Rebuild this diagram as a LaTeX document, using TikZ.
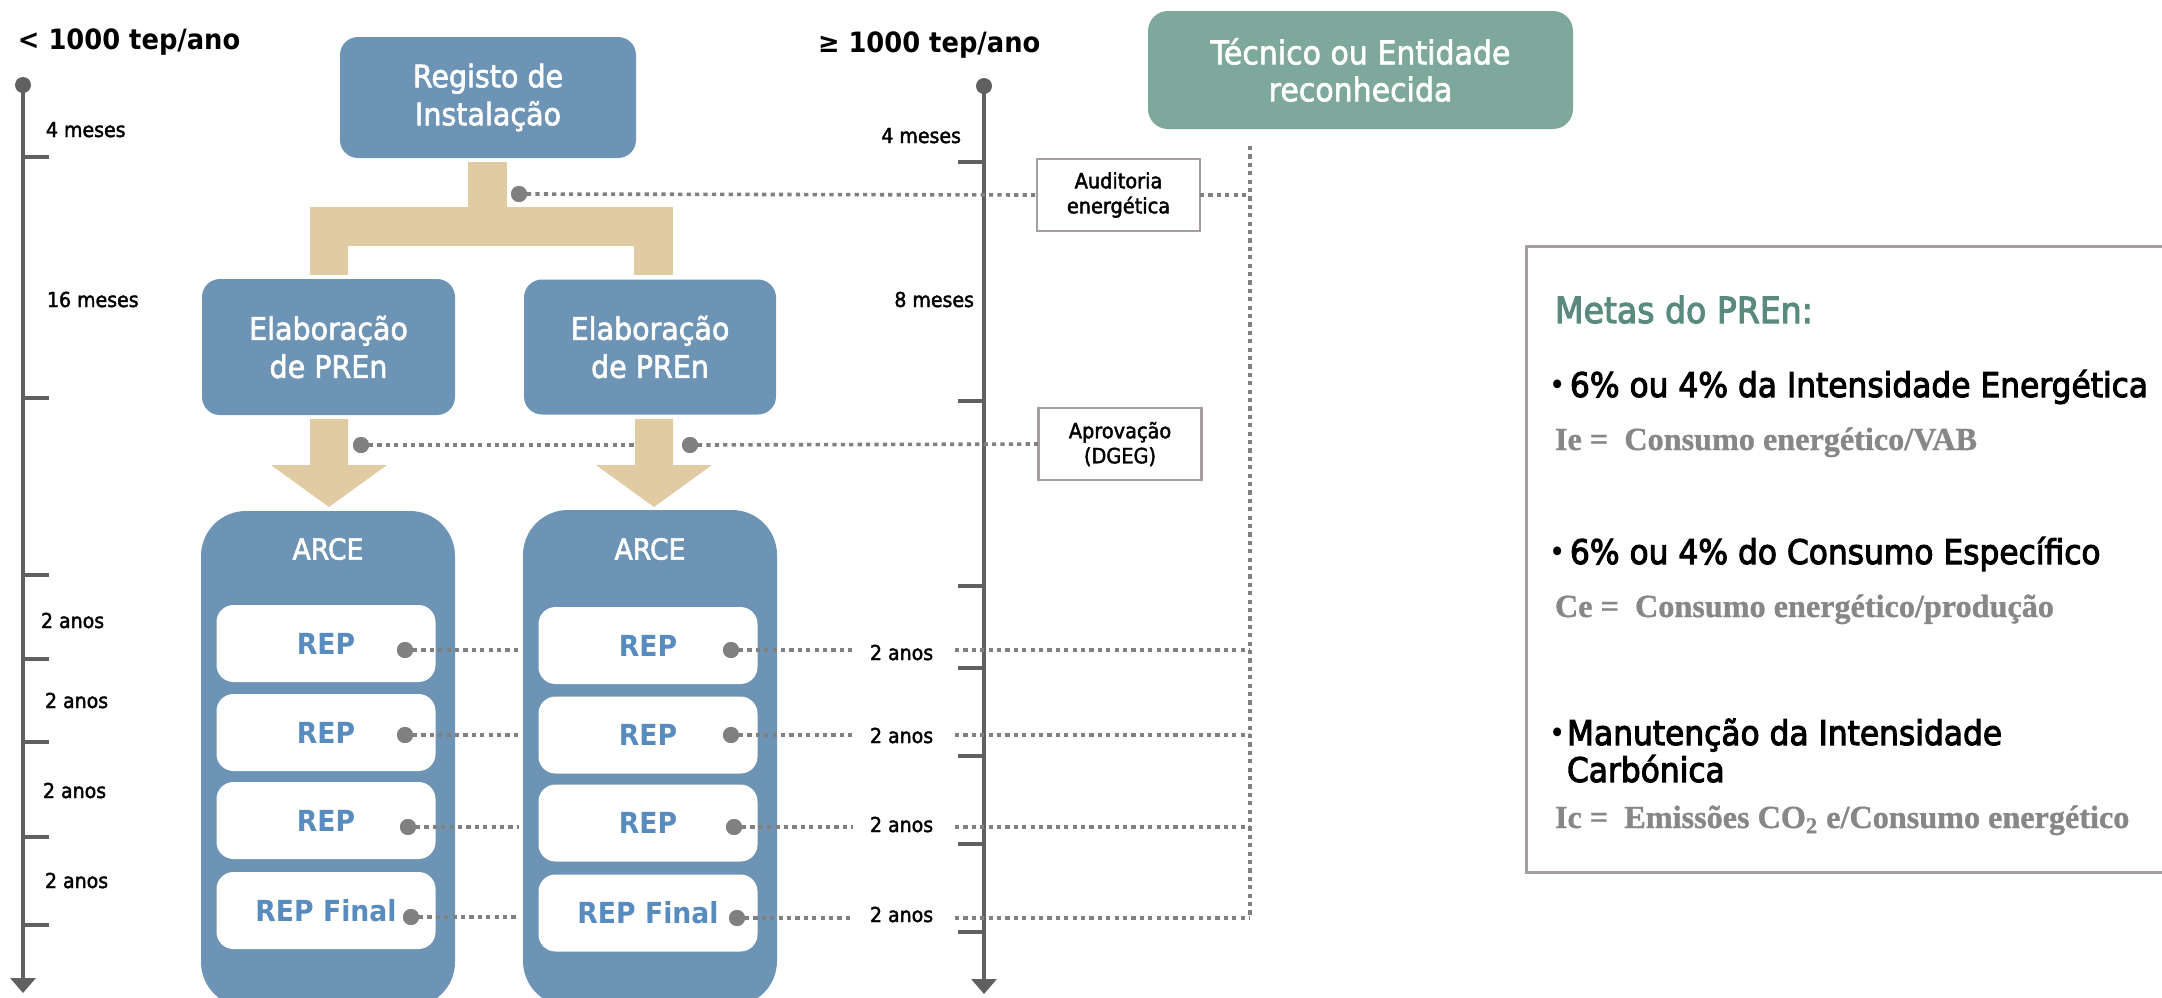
\documentclass[tikz,border=0pt]{standalone}
\usepackage{fontspec}
\setmainfont{DejaVu Sans}[FakeStretch=0.92]
\newfontfamily\semib{DejaVu Sans}[FakeStretch=0.92,FakeBold=2]
\newfontfamily\semibb{DejaVu Sans}[FakeStretch=0.92,FakeBold=3]
\newfontfamily\formfont{Liberation Serif}[FakeBold=1]
\usetikzlibrary{arrows.meta}
\definecolor{boxblue}{RGB}{109,148,181}
\definecolor{tanc}{RGB}{224,203,162}
\definecolor{greenbox}{RGB}{126,168,156}
\definecolor{repblue}{RGB}{88,139,190}
\definecolor{tlgray}{RGB}{96,96,96}
\definecolor{dotgray}{RGB}{128,128,128}
\definecolor{bordergray}{RGB}{165,158,158}
\definecolor{metagreen}{RGB}{90,138,126}
\definecolor{formgray}{RGB}{135,135,135}
\begin{document}
\begin{tikzpicture}[x=0.5pt,y=-0.5pt,
  every node/.style={inner sep=0pt, outer sep=0pt},
  bluebox/.style={fill=boxblue, rounded corners=9pt, text=white, align=center,
    font=\semib\fontsize{15.5}{19}\selectfont},
  arcebox/.style={fill=boxblue, rounded corners=22.5pt, minimum width=127pt, minimum height=248pt},
  arcetxt/.style={text=white, font=\semib\fontsize{14.5}{17}\selectfont},
  repbox/.style={fill=white, rounded corners=8.5pt, minimum width=109.5pt, minimum height=38.5pt,
    text=repblue, font=\bfseries\fontsize{14.5}{17}\selectfont},
  infobox/.style={draw=bordergray, line width=1.3pt, fill=white, align=center,
    minimum width=81.5pt, minimum height=36pt, font=\semib\fontsize{10.5}{12.5}\selectfont},
  lbl/.style={font=\semib\fontsize{10.3}{12}\selectfont, anchor=base west},
  lble/.style={font=\semib\fontsize{10.3}{12}\selectfont, anchor=base east},
  head/.style={font=\bfseries\fontsize{14}{16}\selectfont, anchor=base west},
  tl/.style={draw=tlgray, line width=1.65pt},
  tldot/.style={circle, fill=tlgray, minimum size=8pt},
  dotn/.style={circle, fill=dotgray, minimum size=8pt},
  dotl/.style={draw=dotgray, line width=1.8pt, dash pattern=on 2.1pt off 2.1pt},
  metah/.style={anchor=base west, text=metagreen, font=\semibb\fontsize{18}{21}\selectfont},
  metab/.style={anchor=base west, font=\semibb\fontsize{17}{20}\selectfont},
  metabul/.style={anchor=base west, font=\fontsize{15}{17}\selectfont},
  metaf/.style={anchor=base west, text=formgray, font=\formfont\bfseries\fontsize{16.1}{19}\selectfont},
  tarrow/.style={fill=tanc}]
\useasboundingbox (0,0) rectangle (2162,997);

% ---------- headings
\node[head] (hL) at (18,49) {< 1000 tep/ano};
\node[head] (hR) at (818,52) {≥ 1000 tep/ano};

% ---------- timelines
\node[tldot] (tlLtop) at (23,85) {};
\coordinate (tlLbot) at (23,993);
\draw[tl, -{Triangle[width=12.5pt,length=7.5pt]}] (tlLtop.center) -- (tlLbot);
\foreach \y in {157,398,575,659,742,837,925} \draw[tl] (23,\y) -- (49,\y);

\node[tldot] (tlRtop) at (984,86) {};
\coordinate (tlRbot) at (984,994);
\draw[tl, -{Triangle[width=12.5pt,length=7.5pt]}] (tlRtop.center) -- (tlRbot);
\foreach \y in {162,401,586,668,756,844,932} \draw[tl] (958,\y) -- (984,\y);

% left labels
\node[lbl] (lm4) at (46,137) {4 meses};
\node[lbl] (lm16) at (47,307) {16 meses};
\node[lbl] (la1) at (41,628) {2 anos};
\node[lbl] (la2) at (45,708) {2 anos};
\node[lbl] (la3) at (43,798) {2 anos};
\node[lbl] (la4) at (45,888) {2 anos};
% right labels
\node[lble] (rm4) at (961,143) {4 meses};
\node[lble] (rm8) at (974,307) {8 meses};
\node[lbl] (ra1) at (870,660) {2 anos};
\node[lbl] (ra2) at (870,743) {2 anos};
\node[lbl] (ra3) at (870,832) {2 anos};
\node[lbl] (ra4) at (870,922) {2 anos};

% ---------- tan connectors
\fill[tanc] (468,162) rectangle (507,207);
\fill[tanc] (310,207) rectangle (673,246);
\fill[tanc] (310,246) rectangle (348,275);
\fill[tanc] (634,246) rectangle (673,275);
\fill[tanc] (310,419) -- (348,419) -- (348,465) -- (387,465) -- (329,507) -- (271,465) -- (310,465) -- cycle;
\fill[tanc] (635,419) -- (673,419) -- (673,465) -- (712,465) -- (654,507) -- (596,465) -- (635,465) -- cycle;

% ---------- boxes
\node[bluebox, minimum width=148pt, minimum height=60.5pt] (reg) at (488,97.5) {Registo de\\Instalação};
\node[bluebox, minimum width=126.5pt, minimum height=68pt] (elabL) at (328.5,347) {Elaboração\\de PREn};
\node[bluebox, minimum width=126pt, minimum height=67.5pt] (elabR) at (650,347) {Elaboração\\de PREn};
\node[bluebox, fill=greenbox, rounded corners=10pt, minimum width=212.5pt, minimum height=59pt,
  font=\semib\fontsize{16.3}{18.5}\selectfont] (tec) at (1360.5,70) {Técnico ou Entidade\\reconhecida};

\node[arcebox] (arceL) at (328,759) {};
\node[arcebox] (arceR) at (650,758) {};
\node[arcetxt] (arceLt) at (328,549) {ARCE};
\node[arcetxt] (arceRt) at (650,549) {ARCE};

\node[repbox] (repL1) at (326,643.5) {REP};
\node[repbox] (repL2) at (326,732.5) {REP};
\node[repbox] (repL3) at (326,820.5) {REP};
\node[repbox] (repL4) at (326,910.5) {REP Final};
\node[repbox] (repR1) at (648,645.5) {REP};
\node[repbox] (repR2) at (648,735) {REP};
\node[repbox] (repR3) at (648,823) {REP};
\node[repbox] (repR4) at (648,913) {REP Final};

\node[infobox] (aud) at (1118.5,195) {Auditoria\\energética};
\node[infobox] (apr) at (1120,444) {Aprovação\\(DGEG)};

% ---------- dots
\node[dotn] (dReg) at (519,194) {};
\node[dotn] (dEL) at (361,445) {};
\node[dotn] (dER) at (690,445) {};
\node[dotn] (dL1) at (405,650) {};
\node[dotn] (dL2) at (405,735) {};
\node[dotn] (dL3) at (408,827) {};
\node[dotn] (dL4) at (411,917) {};
\node[dotn] (dR1) at (731,650) {};
\node[dotn] (dR2) at (731,735) {};
\node[dotn] (dR3) at (734,827) {};
\node[dotn] (dR4) at (737,918) {};

% ---------- dotted connectors
\coordinate (vt) at (1250,146);
\coordinate (vb) at (1250,918);
\draw[dotl] (vt) -- (vb);
\draw[dotl] (dReg.east) -- (aud.west);
\draw[dotl] (aud.east) -- (aud.east -| vt);
\coordinate (stemR) at (635,445);
\draw[dotl] (dEL.east) -- (stemR);
\draw[dotl] (dER.east) -- (apr.west);

\foreach \i/\y in {1/650,2/735,3/827,4/917} {
  \coordinate (eL\i) at (519,\y);
  \draw[dotl] (dL\i.east) -- (eL\i);
}
\foreach \i/\y in {1/650,2/735,3/827,4/918} {
  \coordinate (eR\i) at (853,\y);
  \coordinate (sR\i) at (955,\y);
  \coordinate (vR\i) at (1250,\y);
  \draw[dotl] (dR\i.east) -- (eR\i);
  \draw[dotl] (sR\i) -- (vR\i);
}
\foreach \n in {dEL,dER,dL1,dL2,dL3,dL4,dR1,dR2,dR3,dR4,dReg} \fill[dotgray] (\n) circle (4pt);

% ---------- Metas box
\draw[bordergray, line width=1.5pt] (2240,246) -- (1526,246) -- (1526,872) -- (2240,872);
\node[metah] (mh) at (1555,323) {Metas do PREn:};
\node[metabul] (b1) at (1549,395) {•};
\node[metab] (t1) at (1570,397) {6\% ou 4\% da Intensidade Energética};
\node[metaf] (f1) at (1555,450) {Ie =\ \ Consumo energético/VAB};
\node[metabul] (b2) at (1549,562) {•};
\node[metab] (t2) at (1570,564) {6\% ou 4\% do Consumo Específico};
\node[metaf] (f2) at (1555,617) {Ce =\ \ Consumo energético/produção};
\node[metabul] (b3) at (1549,743) {•};
\node[metab] (t3) at (1567,745) {Manutenção da Intensidade};
\node[metab] (t3b) at (1567,782) {Carbónica};
\node[metaf] (f3) at (1555,828) {Ic =\ \ Emissões CO\textsubscript{2} e/Consumo energético};
\end{tikzpicture}
\end{document}
